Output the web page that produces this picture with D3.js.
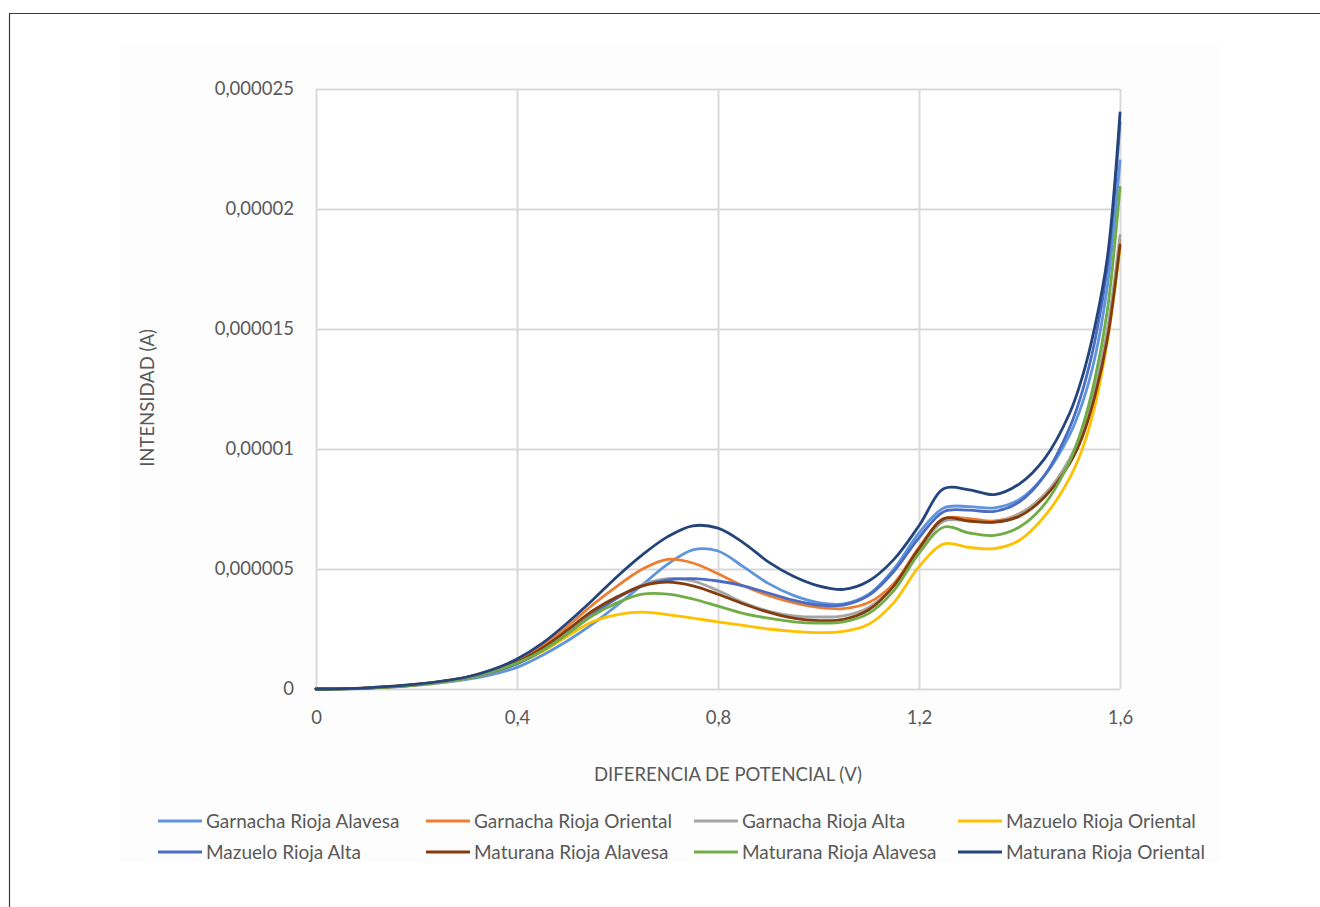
<!DOCTYPE html>
<html>
<head>
<meta charset="utf-8">
<script src="https://cdn.jsdelivr.net/npm/d3@7"></script>
<style>
  html, body { margin: 0; padding: 0; background: #ffffff; }
  svg { display: block; }
  text { font-family: Lato, "Open Sans", "Liberation Sans", sans-serif; fill: #595959; }
</style>
</head>
<body>
<svg id="chart" width="1320" height="907"></svg>
<script>
// Potential (V) at which every voltammogram was sampled
const potential = [0, 0.1, 0.2, 0.3, 0.35, 0.4, 0.45, 0.5, 0.55, 0.6, 0.65, 0.7, 0.75, 0.8, 0.85, 0.9,
  0.95, 1.0, 1.05, 1.1, 1.15, 1.2, 1.25, 1.3, 1.35, 1.4, 1.45, 1.5, 1.525, 1.55, 1.575, 1.6];

// Current in microamperes, one array per wine
const garnachaRiojaAlavesa = [0, 0.03, 0.15, 0.4, 0.6, 0.9, 1.4, 2.0, 2.7, 3.5, 4.35, 5.2, 5.8, 5.75, 5.1, 4.4,
  3.9, 3.6, 3.55, 3.95, 5.0, 6.5, 7.55, 7.6, 7.55, 7.9, 8.9, 10.6, 11.9, 13.8, 16.8, 22.0];
const garnachaRiojaOriental = [0, 0.05, 0.2, 0.5, 0.8, 1.2, 1.8, 2.6, 3.5, 4.3, 5.0, 5.4, 5.25, 4.8, 4.3, 3.9,
  3.6, 3.4, 3.35, 3.6, 4.4, 5.9, 7.1, 7.1, 7.0, 7.3, 8.1, 9.5, 10.7, 12.3, 14.8, 18.7];
const garnachaRiojaAlta = [0, 0.04, 0.17, 0.45, 0.7, 1.05, 1.6, 2.3, 3.1, 3.8, 4.35, 4.6, 4.5, 4.1, 3.6, 3.25,
  3.05, 3.0, 3.05, 3.4, 4.3, 5.8, 7.0, 7.0, 6.95, 7.3, 8.1, 9.6, 10.8, 12.5, 15.0, 18.9];
const mazueloRiojaOriental = [0, 0.04, 0.16, 0.44, 0.7, 1.05, 1.55, 2.2, 2.8, 3.1, 3.2, 3.1, 2.95, 2.8, 2.65, 2.5,
  2.4, 2.35, 2.4, 2.7, 3.6, 5.1, 6.05, 5.9, 5.85, 6.2, 7.2, 8.8, 10.0, 11.8, 14.5, 18.4];
const mazueloRiojaAlta = [0, 0.04, 0.17, 0.45, 0.7, 1.05, 1.6, 2.3, 3.1, 3.8, 4.3, 4.55, 4.6, 4.5, 4.3, 4.0,
  3.7, 3.5, 3.5, 3.9, 4.9, 6.3, 7.4, 7.45, 7.4, 7.8, 8.9, 10.9, 12.4, 14.5, 17.6, 23.6];
const maturanaRiojaAlavesaA = [0, 0.04, 0.18, 0.48, 0.75, 1.12, 1.7, 2.45, 3.25, 3.85, 4.3, 4.45, 4.3, 3.95, 3.55, 3.2,
  2.95, 2.85, 2.9, 3.3, 4.3, 5.85, 7.1, 7.0, 6.95, 7.2, 8.0, 9.4, 10.5, 12.2, 14.6, 18.5];
const maturanaRiojaAlavesaB = [0, 0.04, 0.17, 0.46, 0.72, 1.08, 1.6, 2.3, 3.05, 3.6, 3.95, 3.95, 3.75, 3.45, 3.15, 2.95,
  2.8, 2.75, 2.8, 3.15, 4.1, 5.65, 6.75, 6.5, 6.4, 6.75, 7.7, 9.5, 10.9, 12.9, 15.8, 20.9];
const maturanaRiojaOriental = [0, 0.05, 0.2, 0.5, 0.8, 1.25, 1.9, 2.75, 3.7, 4.7, 5.6, 6.35, 6.8, 6.7, 6.1, 5.3,
  4.7, 4.3, 4.15, 4.5, 5.4, 6.8, 8.35, 8.3, 8.1, 8.55, 9.6, 11.5, 13.0, 15.1, 18.0, 24.0];

const seriesNames = ["Garnacha Rioja Alavesa", "Garnacha Rioja Oriental", "Garnacha Rioja Alta",
  "Mazuelo Rioja Oriental", "Mazuelo Rioja Alta", "Maturana Rioja Alavesa",
  "Maturana Rioja Alavesa", "Maturana Rioja Oriental"];
const seriesValues = [garnachaRiojaAlavesa, garnachaRiojaOriental, garnachaRiojaAlta,
  mazueloRiojaOriental, mazueloRiojaAlta, maturanaRiojaAlavesaA,
  maturanaRiojaAlavesaB, maturanaRiojaOriental];
const seriesColors = ["#5f95dc", "#ed7d31", "#a5a5a5", "#ffc000", "#4a6cc3", "#843c0c", "#70ad47", "#24457c"];

const xTickValues = [0, 0.4, 0.8, 1.2, 1.6];
const xTickLabels = ["0", "0,4", "0,8", "1,2", "1,6"];
const yTickValues = [0, 5e-6, 10e-6, 15e-6, 20e-6, 25e-6];
const yTickLabels = ["0", "0,000005", "0,00001", "0,000015", "0,00002", "0,000025"];

const MICRO = 1e-6;

const svg = d3.select("#chart");
const plot = { left: 316, right: 1120, top: 89, bottom: 689 };

// Outer frame and the faintly tinted chart area
svg.append("rect").attr("x", 120).attr("y", 45).attr("width", 1100).attr("height", 817)
  .attr("fill", "#fdfdfd");
svg.append("path").attr("d", "M9.5,907V13.5H1320").attr("fill", "none")
  .attr("stroke", "#3a3a3a").attr("stroke-width", 1.2);

const x = d3.scaleLinear().domain([0, 1.6]).range([plot.left, plot.right]);
const y = d3.scaleLinear().domain([0, 25e-6]).range([plot.bottom, plot.top]);

svg.append("rect").attr("x", plot.left).attr("y", plot.top)
  .attr("width", plot.right - plot.left).attr("height", plot.bottom - plot.top).attr("fill", "#ffffff");

// Grid lines
const gridX = svg.append("g").attr("transform", `translate(0,${plot.bottom})`)
  .call(d3.axisBottom(x).tickValues(xTickValues).tickSize(-(plot.bottom - plot.top)).tickFormat(""));
const gridY = svg.append("g").attr("transform", `translate(${plot.left},0)`)
  .call(d3.axisLeft(y).tickValues(yTickValues).tickSize(-(plot.right - plot.left)).tickFormat(""));
[gridX, gridY].forEach(g => {
  g.select(".domain").remove();
  g.selectAll(".tick line").attr("stroke", "#d9d9d9").attr("stroke-width", 2);
});

// Tick labels
const axisX = svg.append("g").attr("transform", `translate(0,${plot.bottom + 19})`)
  .call(d3.axisBottom(x).tickValues(xTickValues).tickSize(0)
    .tickFormat((d, i) => xTickLabels[i]));
const axisY = svg.append("g").attr("transform", `translate(${plot.left - 19},0)`)
  .call(d3.axisLeft(y).tickValues(yTickValues).tickSize(0)
    .tickFormat((d, i) => yTickLabels[i]));
[axisX, axisY].forEach(g => {
  g.select(".domain").remove();
  g.selectAll("text").attr("fill", "#595959").style("font-size", "18.5px")
    .style("font-family", "Lato, 'Open Sans', sans-serif");
});
axisX.selectAll("text").attr("dy", "0.71em");

// Axis titles
svg.append("text").attr("x", 728).attr("y", 781).attr("text-anchor", "middle")
  .style("font-size", "18.5px").text("DIFERENCIA DE POTENCIAL (V)");
svg.append("text").attr("transform", "translate(154,398) rotate(-90)").attr("text-anchor", "middle")
  .style("font-size", "18.5px").text("INTENSIDAD (A)");

// Voltammogram curves
const line = d3.line()
  .x((d, i) => x(potential[i]))
  .y(d => y(d * MICRO))
  .curve(d3.curveCatmullRom.alpha(0.5));

svg.append("g").selectAll("path")
  .data(seriesValues)
  .join("path")
  .attr("d", d => line(d))
  .attr("fill", "none")
  .attr("stroke", (d, i) => seriesColors[i])
  .attr("stroke-width", 2.8)
  .attr("stroke-linejoin", "round")
  .attr("stroke-linecap", "round");

// Legend: two rows of four entries
const legendCols = [158, 426, 694, 958];
const legendRows = [821, 852];
const legend = svg.append("g");
seriesNames.forEach((name, i) => {
  const cx = legendCols[i % 4];
  const cy = legendRows[Math.floor(i / 4)];
  legend.append("line").attr("x1", cx).attr("x2", cx + 44).attr("y1", cy).attr("y2", cy)
    .attr("stroke", seriesColors[i]).attr("stroke-width", 2.8);
  legend.append("text").attr("x", cx + 48).attr("y", cy).attr("dy", "0.35em")
    .style("font-size", "19px").text(name);
});
</script>
</body>
</html>
